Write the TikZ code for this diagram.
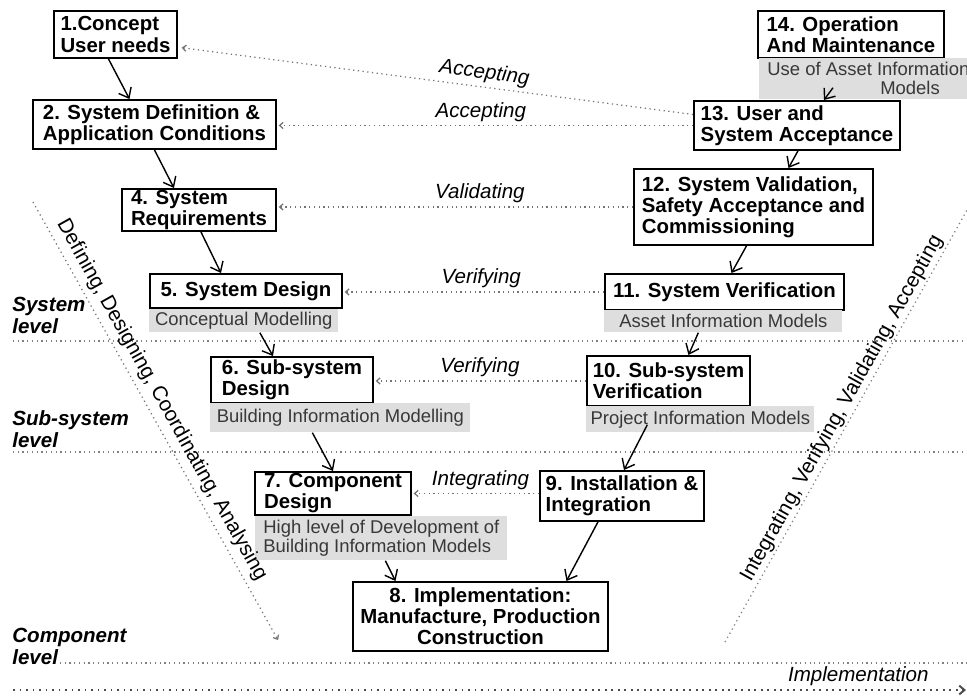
\documentclass[tikz,border=0pt]{standalone}
\usepackage{fontspec}
\setmainfont{Liberation Sans}
\usetikzlibrary{arrows.meta,calc}

\newlength\px \setlength\px{0.02cm}
\newcommand\stagefont{\fontsize{11.6}{12}\selectfont\bfseries}
\newcommand\modelfont{\fontsize{10.5}{10.8}\selectfont}
\newcommand\actfont{\fontsize{11.7}{14}\selectfont\itshape}
\newcommand\levelfont{\fontsize{11.7}{12.5}\selectfont\bfseries\itshape}
\newcommand\phasefont{\fontsize{11.8}{14}\selectfont}

\tikzset{
  stagebox/.style={draw, line width=1.1pt, fill=white, anchor=north west, inner sep=0pt, align=left, font=\stagefont},
  modelbox/.style={fill=black!13, text=black!78, anchor=north west, inner sep=0pt, align=left, font=\modelfont},
  flow/.style={line width=0.8pt, -{Straight Barb[length=5pt,width=8pt]}},
  feedback/.style={dotted, line width=0.7pt, black!55, -{Straight Barb[length=2pt,width=3.5pt]}, shorten >=1pt},
  actlabel/.style={font=\actfont, text=black, inner sep=0pt, above=2pt},
  levelline/.style={dotted, line width=0.7pt, black!50},
  levellabel/.style={anchor=west, align=left, inner sep=0pt, font=\levelfont},
  implline/.style={line width=1.1pt, dash pattern=on 1.1pt off 2.6pt, black!70, -{Straight Barb[length=3pt,width=5pt]}},
}

\begin{document}
\begin{tikzpicture}[x=0.02cm,y=-0.02cm]

\useasboundingbox (0,0) rectangle (967,697);
\fill[white] (0,0) rectangle (967,697);
\clip (0,0) rectangle (967,697);

% levels
\draw[levelline] (13,341) -- (967,341);
\draw[levelline] (13,452) -- (967,452);
\draw[levelline] (60,663) -- (967,663);
\node[levellabel] (lvsys) at (12,315) {System\\level};
\node[levellabel] (lvsub) at (12,429) {Sub-system\\level};
\node[levellabel] (lvcomp) at (12,646) {Component\\level};

% left branch
\node[stagebox, minimum width=123\px, minimum height=47\px] (b1) at (53,10) {1.Concept\\User needs};
\node[stagebox, minimum width=243\px, minimum height=49\px] (b2) at (32,99) {2. System Definition \&\\Application Conditions};
\node[stagebox, minimum width=154\px, minimum height=42\px] (b4) at (121,188) {4. System\\Requirements};
\node[stagebox, minimum width=192\px, minimum height=34\px] (b5) at (149,273) {5. System Design};
\node[modelbox, minimum width=189\px, minimum height=23\px] (g5) at (149,309) {Conceptual Modelling};
\node[stagebox, minimum width=162\px, minimum height=46\px] (b6) at (210,356) {6. Sub-system\\Design};
\node[modelbox, minimum width=260\px, minimum height=29\px] (g6) at (210,403) {Building Information Modelling};
\node[stagebox, minimum width=156\px, minimum height=43\px] (b7) at (254,471) {7. Component\\Design};
\node[modelbox, minimum width=252\px, minimum height=44\px] (g7) at (255,516) {High level of Development of\\Building Information Models};

% bottom
\node[stagebox, align=center, minimum width=255\px, minimum height=69\px] (b8) at (352,581) {8. Implementation:\\Manufacture, Production\\Construction};

% right branch
\node[stagebox, minimum width=164\px, minimum height=50\px] (b9) at (539,470) {9. Installation \&\\Integration};
\node[stagebox, minimum width=163\px, minimum height=50\px] (b10) at (586,355) {10. Sub-system\\Verification};
\node[modelbox, minimum width=228\px, minimum height=26\px] (g10) at (586,406) {Project Information Models};
\node[stagebox, minimum width=239\px, minimum height=36\px] (b11) at (604,273) {11. System Verification};
\node[modelbox, minimum width=238\px, minimum height=22\px] (g11) at (604,310) {Asset Information Models};
\node[stagebox, minimum width=239\px, minimum height=76\px] (b12) at (633,168) {12. System Validation,\\Safety Acceptance and\\Commissioning};
\node[stagebox, minimum width=206\px, minimum height=49\px] (b13) at (693,100) {13. User and\\System Acceptance};
\node[stagebox, minimum width=186\px, minimum height=47\px] (b14) at (757,10) {14. Operation\\And Maintenance};
\node[modelbox, inner xsep=8\px, minimum height=41\px] (g14) at (759,58) {Use of Asset Information\\\hspace*{113\px}Models};

% down the V
\draw[flow] ($(b1.south)+(-7,0)$) -- ($(b2.north)+(-25,0)$);
\draw[flow] (b2.south) -- ($(b4.north)+(-25,0)$);
\draw[flow] ($(b4.south)+(2,0)$) -- ($(b5.north)+(-25,0)$);
\draw[flow] ($(g5.south)+(16,0)$) -- ($(b6.north)+(-19,0)$);
\draw[flow] ($(g6.south)+(-28,0)$) -- (b7.north);
\draw[flow] ($(g7.south)+(4,0)$) -- ($(b8.north)+(-85,0)$);

% up the V
\draw[flow] ($(b9.south)+(-24,0)$) -- ($(b8.north)+(86,0)$);
\draw[flow] ($(g10.south)+(-53,-8)$) -- ($(b9.north)+(2,0)$);
\draw[flow] ($(g11.south)+(-25,0)$) -- ($(b10.north)+(20,0)$);
\draw[flow] ($(b12.south)+(-7,0)$) -- ($(b11.north)+(7,0)$);
\draw[flow] ($(b13.south)+(1,0)$) -- ($(b12.north)+(35,0)$);
\draw[flow] ($(g14.south west)+(74,-12)$) -- ($(b13.north)+(27,0)$);

% across the V
\draw[feedback] ($(b13.west)+(0,-11)$) -- node[actlabel, sloped, pos=0.41] {Accepting} ($(b1.east)+(2,13)$);
\draw[feedback] (b13.west) -- node[actlabel, pos=0.51] {Accepting} (b13.west -| b2.east);
\draw[feedback] (b12.west) -- node[actlabel, pos=0.43] {Validating} (b12.west -| b4.east);
\draw[feedback] (b11.west) -- node[actlabel, pos=0.47] {Verifying} (b11.west -| b5.east);
\draw[feedback] (b10.west) -- node[actlabel, pos=0.5] {Verifying} (b10.west -| b6.east);
\draw[feedback] (b9.west |- b7.east) -- node[actlabel, pos=0.46] {Integrating} (b7.east);

% phases
\coordinate (dtop) at (33,202);
\coordinate (dbot) at (278,640);
\draw[feedback, shorten >=0pt] (dtop) -- node[sloped, pos=0.47, above=3pt, inner sep=0pt, text=black, font=\phasefont] {Defining, Designing, Coordinating, Analysing} (dbot);
\coordinate (ubot) at (725,642);
\coordinate (utop) at (967,210);
\draw[levelline] (ubot) -- node[sloped, pos=0.527, above=1pt, inner sep=0pt, text=black, font=\phasefont] {Integrating, Verifying, Validating, Accepting} (utop);

\coordinate (istart) at (13,690);
\coordinate (iend) at (966,690);
\draw[implline] (istart) -- node[actlabel, pos=0.887] {Implementation} (iend);

\end{tikzpicture}
\end{document}
